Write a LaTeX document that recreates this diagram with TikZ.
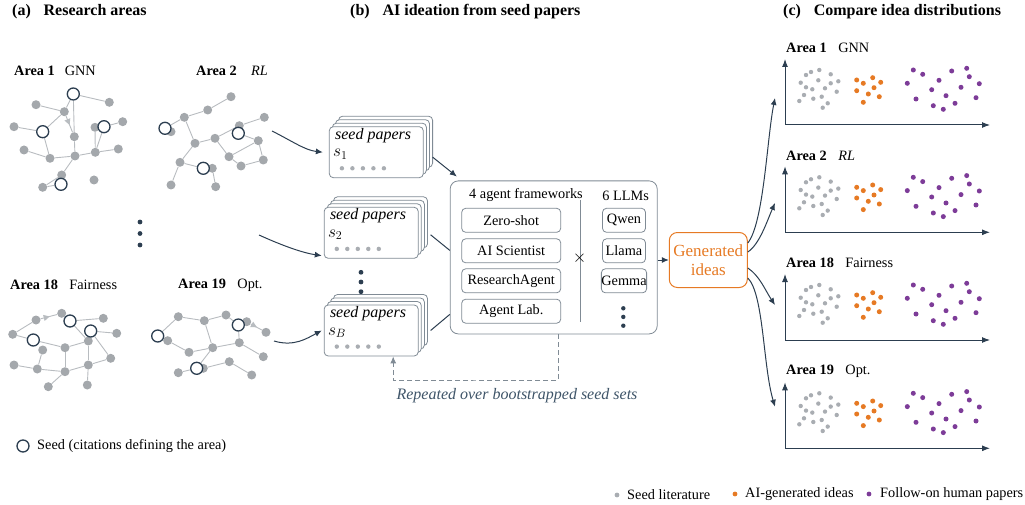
\documentclass[tikz,border=0pt]{standalone}
\usepackage{fontspec}
\setmainfont{Liberation Serif}
\usetikzlibrary{arrows.meta,backgrounds,decorations.markings}

\definecolor{navy}{HTML}{2C3E50}
\definecolor{slate}{HTML}{3E5468}
\definecolor{nodegray}{HTML}{A4A8AC}
\definecolor{edgegray}{HTML}{B8BCC0}
\definecolor{boxgray}{HTML}{808B95}
\definecolor{dotgray}{HTML}{A9ADB2}
\definecolor{ideaorange}{HTML}{E67A24}
\definecolor{humanpurple}{HTML}{7D3C98}

\tikzset{
  gnode/.style={circle, fill=nodegray, minimum size=9pt, inner sep=0pt},
  seednode/.style={circle, draw=navy, fill=white, line width=1.3pt, minimum size=12pt, inner sep=0pt},
  gedge/.style={draw=edgegray, line width=0.9pt},
  citeedge/.style={gedge, postaction={decorate},
    decoration={markings, mark=at position 0.55 with {\arrow{Triangle[length=6pt,width=6pt]}}}},
  lbl/.style={inner sep=1pt},
  ttl/.style={lbl, anchor=west, font=\fontsize{16}{18}\selectfont\bfseries},
  card/.style={draw=boxgray, fill=white, rounded corners=4pt, minimum width=94pt, minimum height=51pt, line width=0.8pt},
  fwbox/.style={draw=boxgray, rounded corners=4pt, minimum width=99pt, minimum height=24pt, inner sep=0pt, line width=0.8pt},
  llmbox/.style={fwbox, minimum width=43pt},
  flow/.style={draw=navy, line width=1pt, -{Latex[length=7pt,width=6pt]}},
  axis/.style={draw=navy, line width=1pt, -{Latex[length=8pt,width=6pt]}},
  vdot/.style={circle, fill=navy, minimum size=4.8pt, inner sep=0pt},
}

\begin{document}
\begin{tikzpicture}[x=1pt, y=-1pt, font=\fontsize{14.3}{16}\selectfont]
\useasboundingbox (0,0) rectangle (1025,505);

% titles
\node[ttl] (ttla) at (11,12) {(a)\hspace{0.8em}Research areas};
\node[ttl] (ttlb) at (349,12) {(b)\hspace{0.8em}AI ideation from seed papers};
\node[ttl] (ttlc) at (782,12) {(c)\hspace{0.8em}Compare idea distributions};

% ---- (a) research areas
\node[lbl, anchor=west] (ar1) at (13,71) {\textbf{Area 1}\hspace{0.7em}GNN};
\node[lbl, anchor=west] (ar2) at (195,71) {\textbf{Area 2}\hspace{1em}\textit{RL}};
\node[lbl, anchor=west] (ar18) at (9,285) {\textbf{Area 18}\hspace{0.8em}Fairness};
\node[lbl, anchor=west] (ar19) at (177,285) {\textbf{Area 19}\hspace{0.8em}Opt.};
\foreach \y [count=\i] in {222,233.5,245} \node[vdot] (adot\i) at (140,\y) {};

% citation graphs
\foreach \n/\x/\y in {p1/109.3/102.3, p2/36/104.7, p3/64.3/111.7, p4/14/126.7, p5/95/127.3,
  p6/122.7/121.7, p7/74.3/136.7, p8/24/150, p9/50/158.3, p10/75/156, p11/95.3/152.3,
  p12/118.3/149, p13/61.7/175, p14/42.7/187.3, p15/94/180,
  q1/231/96.7, q2/207.7/110, q3/184.3/117.3, q4/171/131.7, q5/264.3/117.3, q6/239.3/125.7,
  q7/215/138.3, q8/195/143.3, q9/258.3/140.7, q10/229/156.7, q11/263.3/160, q12/241/166,
  q13/180/162.3, q14/212.3/168.3, q15/171/185, q16/215.7/186.7,
  r1/36/320, r2/61.7/313.3, r3/103.3/318.3, r4/116.7/333.3, r5/12.7/334.3, r6/42.7/350,
  r7/65/347.7, r8/88.3/341, r9/14/365, r10/37.3/369, r11/110.7/358.3, r12/65/371.7,
  r13/88.3/365, r14/48.3/386.7, r15/87.3/385,
  s1/178.3/316.7, s2/204.3/320.7, s3/226/315, s4/246.7/321.7, s5/266/332.3, s6/167.7/340.7,
  s7/189/352.3, s8/212.7/347.7, s9/239.3/342.7, s10/263.3/356.7, s11/229.3/361.7,
  s12/203.3/368.3, s13/178.3/372.7, s14/251.7/375}
  \node[gnode] (\n) at (\x,\y) {};
\foreach \n/\x/\y in {pA/73.3/94, pB/42.7/131.7, pC/104/126.7, pD/61/184.3,
  qA/165/128.3, qB/238.3/133.3, qC/203.3/168.3,
  rA/70/321, rB/90.7/331, rC/33.3/340,
  sA/157.7/336, sB/238.3/325, sC/196.7/368.3}
  \node[seednode] (\n) at (\x,\y) {};
\begin{scope}[on background layer]
  \foreach \a/\b in {pA/p1, pA/p3, pA/p7, p2/p3, p4/pB, pB/p3, pB/p9, p8/p9, p9/p10, p10/p7,
    p10/p11, p11/p12, p11/p5, p11/pC, pC/p6, p10/p13, p13/p14, p14/pD, p13/pD,
    q1/q2, q2/q3, q3/qA, q3/q8, q8/q7, q7/q6, q6/q5, q7/q10, q10/q9, q9/q11, q11/q12,
    q12/q10, qB/q9, q8/q13, q13/q15, q13/qC, qC/q14, q14/q16,
    r5/r1, r5/rC, rC/r7, r7/r8, rA/r3, rA/r8, rB/r4, rB/r11, r8/r13, r7/r12, r6/r10,
    r9/r10, r10/r12, r12/r13, r13/r11, r12/r14, r13/r15, r2/rA,
    sA/s1, s1/s2, s2/s3, s3/sB, s2/s8, s6/s7, s7/s8, s8/s9, s9/sB, s9/s10, s8/sC,
    s13/sC, s12/s11, s11/s14, sB/s4}
    \draw[gedge] (\a) -- (\b);
  \draw[citeedge] (p3) -- (p7);
  \draw[citeedge] (r1) -- (r2);
  \draw[citeedge] (s4) -- (s5);
\end{scope}

\node[seednode] (legseed) at (23,446) {};
\node[lbl, anchor=west] (leglbl) at (36,446) {Seed (citations defining the area)};

% ---- (b) seed paper stacks
\foreach \cx/\cy/\k in {376.3/152.2/1, 371.2/232.8/2, 371.2/330.5/B} {
  \foreach \d in {3,2,1} \node[card] (sp\k-\d) at (\cx+3.1*\d,\cy-3.5*\d) {};
  \node[card] (sp\k) at (\cx,\cy) {};
  \node[lbl, anchor=west, font=\fontsize{16}{18}\selectfont\itshape] (spt\k) at ([shift={(5,9)}]sp\k.north west) {seed papers};
  \node[lbl, anchor=west, font=\fontsize{16.5}{18}\selectfont] (sps\k) at ([shift={(3,28)}]sp\k.north west) {$s_{\k}$};
  \foreach \i in {0,...,4} \fill[dotgray] ([shift={(13+10.5*\i,42)}]sp\k.north west) circle (2.2pt);
}
\foreach \y [count=\i] in {272.3,282,291.7} \node[vdot] (bdot\i) at (361,\y) {};

\coordinate (fromA2) at (272,131);
\coordinate (fromgap) at (259,235);
\coordinate (fromA19) at (274,341);
\draw[flow] (fromA2) .. controls +(20,10) and +(-18,-2) .. ([xshift=-6pt]sp1.west);
\draw[flow] (fromgap) .. controls +(22,10) and +(-20,-3) .. ([shift={(-2,-3)}]sp2.south west);
\draw[flow] (fromA19) .. controls +(20,6) and +(-15,8) .. ([xshift=-2pt]spB.west);

% agent frameworks x LLMs
\node[draw=boxgray, fill=white, rounded corners=8pt, line width=0.8pt, minimum width=207pt, minimum height=153pt] (fw) at (553.7,257.4) {};
\node[lbl] (fwttl) at (526,195) {4 agent frameworks};
\node[lbl] (llmttl) at (625.7,196) {6 LLMs};
\node[fwbox] (zs) at (511.2,220.3) {Zero-shot};
\node[fwbox] (ais) at (511.2,250.8) {AI Scientist};
\node[fwbox] (ra) at (511.2,280.8) {ResearchAgent};
\node[fwbox] (al) at (511.2,311.2) {Agent Lab.};
\node[llmbox] (qwen) at (624,220.3) {Qwen};
\node[llmbox] (llama) at (624,250.8) {Llama};
\node[llmbox] (gemma) at (624,280.8) {Gemma};
\foreach \y [count=\i] in {308.3,316.9,325.7} \node[vdot, minimum size=4.4pt] (ldot\i) at (623.3,\y) {};
\draw[boxgray, line width=0.8pt] (580.7,200) -- (580.7,321.7);
\node[lbl, font=\fontsize{16}{18}\selectfont] (times) at (579.5,258.3) {$\times$};

\draw[flow] ([shift={(9,5)}]sp1.east) -- ([shift={(7,-4)}]fw.north west);
\draw[navy, line width=1pt] ([shift={(12,2)}]sp2.east) -- ([yshift=7pt]fw.west);
\draw[navy, line width=1pt] ([xshift=12pt]spB.east) -- ([yshift=-57pt]fw.west);

% bootstrap loop
\coordinate (rep) at (475,380);
\draw[boxgray, line width=0.9pt, dash pattern=on 5pt off 3pt, -{Latex[length=7pt,width=6pt]}]
  ([xshift=4.6pt]fw.south) |- (rep) -| ([xshift=22pt]spB.south);
\node[lbl, text=slate, font=\fontsize{16}{18}\selectfont\itshape] (replbl) at (517,396) {Repeated over bootstrapped seed sets};

% generated ideas
\node[draw=ideaorange, text=ideaorange, rounded corners=8pt, line width=1pt, minimum width=78pt, minimum height=55pt,
  align=center, inner sep=2pt, font=\fontsize{17}{19}\selectfont] (gen) at (708.3,260) {Generated\\ideas};
\draw[flow] (fw.east |- gen.west) -- (gen.west);

% ---- (c) idea distributions
\foreach \oy/\k/\topic in {125/1/GNN, 232.3/2/{\textit{RL}}, 340/18/Fairness, 448.3/19/Opt.} {
  \begin{scope}[shift={(785,\oy)}]
    \coordinate (o\k) at (0,0);
    \coordinate (xend\k) at (205,0);
    \coordinate (yend\k) at (0,-66);
    \draw[axis] (o\k) -- (xend\k);
    \draw[axis] (o\k) -- (yend\k);
    \node[lbl, anchor=west] (lab\k) at (0,-76.7) {\textbf{Area \k}\hspace{0.8em}\topic};
    \foreach \dx/\dy in {21/-50, 26/-53, 34.3/-55, 45.7/-50.7, 15.7/-42.3, 21/-37.7, 33.3/-44.7,
      45.7/-41.7, 53.3/-43.7, 27.3/-35.7, 40/-36.7, 51.7/-33.3, 19/-30, 14.3/-24, 28.3/-26.3,
      36.7/-28.3, 42.7/-21.7, 37.7/-17.3}
      \fill[dotgray] (\dx,\dy) circle (2.2pt);
    \foreach \dx/\dy in {71.7/-45, 78.3/-41.7, 87.7/-47.3, 95.7/-42.7, 71.7/-34.3, 89/-37.3,
      83.3/-31, 94.3/-28.3, 78.3/-22.7}
      \fill[ideaorange] (\dx,\dy) circle (2.5pt);
    \foreach \dx/\dy in {128.3/-55, 137.7/-50.7, 166.7/-54, 181.7/-56.7, 184.3/-48.3, 122.3/-41.7,
      154/-44.7, 194.3/-41.3, 146.7/-35.3, 176/-37.7, 161/-29.3, 131/-26, 191/-27.3,
      148.3/-19.3, 170/-21.7, 158.3/-15.7}
      \fill[humanpurple] (\dx,\dy) circle (2.5pt);
  \end{scope}
}
\coordinate (in1) at (775,98);
\coordinate (in2) at (775,203);
\coordinate (in3) at (775,305);
\coordinate (in4) at (775,406.7);
\draw[flow] ([yshift=17pt]gen.east) .. controls +(16,-20) and +(-8,40) .. (in1);
\draw[flow] ([yshift=8pt]gen.east) .. controls +(12,-8) and +(-8,18) .. (in2);
\draw[flow] ([yshift=-8pt]gen.east) .. controls +(12,8) and +(-10,-15) .. (in3);
\draw[flow] ([yshift=-18pt]gen.east) .. controls +(16,16) and +(-12,-40) .. (in4);

% legend
\fill[dotgray] (617,495) coordinate (lg1) circle (2.4pt);
\node[lbl, anchor=west] (lgl1) at (626,495) {Seed literature};
\fill[ideaorange] (735,494) coordinate (lg2) circle (2.4pt);
\node[lbl, anchor=west] (lgl2) at (744,494) {AI-generated ideas};
\fill[humanpurple] (869,494) coordinate (lg3) circle (2.4pt);
\node[lbl, anchor=west] (lgl3) at (879,494) {Follow-on human papers};
\end{tikzpicture}
\end{document}
